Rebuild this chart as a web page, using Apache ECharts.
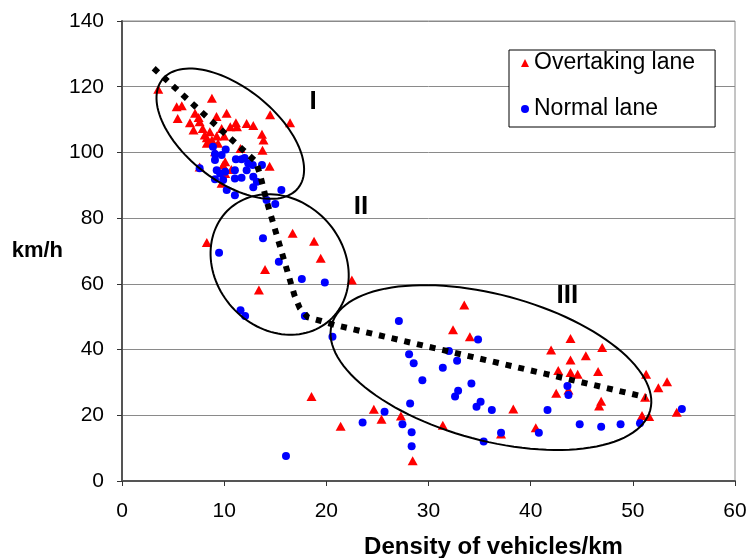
<!DOCTYPE html>
<html>
<head>
<meta charset="utf-8">
<script src="https://cdn.jsdelivr.net/npm/echarts@6/dist/echarts.min.js"></script>
<style>
html,body{margin:0;padding:0;background:#fff;}
#chart{width:749px;height:558px;}
</style>
</head>
<body>
<div id="chart"></div>
<script>
// ---- data ----
const overtakingLane = [
  [3.55,119.2],[5.35,113.9],[5.85,114.2],[5.45,110.3],[8.8,116.5],
  [6.65,109.0],[7.15,111.9],[7.5,110.6],[7.6,109.3],
  [7.0,106.8],[7.9,107.3],[8.1,105.3],[8.6,106.3],[8.3,104.5],[8.8,103.8],[8.3,102.8],
  [9.25,110.9],[9.75,107.3],[9.27,105.0],[9.4,102.8],[10.0,105.0],[9.1,100.2],
  [10.24,111.9],[10.6,107.8],[11.15,109.0],[11.25,107.8],
  [12.2,108.8],[12.85,108.2],[13.7,105.5],[13.85,103.8],[13.75,100.7],
  [14.5,111.5],[16.45,109.0],[11.6,101.2],
  [10.1,97.2],[9.9,96.2],[10.7,94.8],[10.1,93.6],[9.75,90.6],[7.6,95.6],[14.45,95.8],
  [8.3,72.6],[16.7,75.4],[18.8,73.0],[19.45,67.8],[14.0,64.4],[13.4,58.1],[22.5,61.2],
  [33.5,53.6],[32.4,46.0],[34.05,43.9],[18.55,25.7],[24.65,21.8],[25.4,18.8],[21.4,16.7],
  [27.3,19.8],[31.4,17.0],[28.45,6.2],
  [43.9,43.4],[42.0,39.9],[47.0,40.6],[45.4,38.1],[43.9,36.8],[42.7,33.6],[43.9,33.0],
  [44.6,32.5],[46.6,33.3],[51.3,32.5],[53.35,30.2],[52.5,28.4],[42.5,26.7],[43.7,27.7],
  [46.9,24.3],[46.7,22.8],[51.2,25.5],[38.3,21.9],[50.9,19.9],[51.6,19.6],[54.3,20.9],
  [40.5,16.2],[37.1,14.3]
];
const normalLane = [
  [7.6,95.2],[8.9,101.7],[9.1,99.5],[9.75,99.2],[10.15,100.9],[9.1,97.7],
  [11.15,97.9],[11.7,97.9],[12.0,98.3],[12.35,96.7],[12.8,96.2],[13.7,96.2],
  [11.05,94.6],[12.2,94.6],[9.27,94.6],[9.6,93.6],[10.1,94.1],
  [9.1,91.8],[9.9,91.6],[11.05,92.1],[11.7,92.3],[12.85,92.6],
  [12.85,89.4],[13.2,91.1],[10.25,88.6],[11.05,87.0],[14.15,85.5],[15.6,88.6],[15.0,84.3],
  [13.8,73.9],[9.5,69.5],[15.35,66.7],[17.6,61.5],[19.85,60.4],[11.6,52.0],[12.05,50.2],
  [17.9,50.2],[20.6,43.9],
  [27.1,48.7],[34.85,43.1],[28.1,38.6],[28.55,35.8],[31.4,34.5],[32.0,39.6],[32.8,36.6],
  [29.4,30.7],[34.2,29.7],[32.9,27.5],[32.6,25.7],[35.1,24.1],[34.7,22.6],[36.2,21.6],
  [28.2,23.6],[25.7,21.1],[23.55,17.8],[27.45,17.3],[28.35,14.8],[28.35,10.6],[16.05,7.6],
  [35.4,12.0],[37.1,14.7],
  [43.6,28.9],[43.7,26.2],[41.65,21.6],[44.8,17.3],[46.9,16.5],[48.8,17.3],[50.7,17.6],
  [54.8,21.9],[40.8,14.7]
];
const trendX = [3.1, 13.1, 13.5, 14.15, 16.9, 17.4, 18.2, 19.5, 20.8, 51.3];
const trendY = [125.6, 97.2, 93.4, 85.3, 56.3, 52.6, 49.8, 48.7, 47.5, 25.5];
// ellipses in data units: [centerX, centerY, axis1X, axis1Y, axis2X, axis2Y]
const ellipses = [
  [10.6, 105.7, 6.65, -16.5, 2.82, 11.0],
  [15.43, 65.9, 4.91, -16.96, 4.65, 13.03],
  [36.11, 34.53, 15.59, -12.99, 1.85, 21.46]
];
const regionLabels = ['I', 'II', 'III'];
const regionLabelX = [18.7, 23.4, 43.6];
const regionLabelY = [115.4, 83.5, 56.3];
const xTicks = [0, 60, 10];
const yTicks = [0, 140, 20];

// ---- chart ----
const FONT = '"Liberation Sans", Arial, sans-serif';
const chart = echarts.init(document.getElementById('chart'), null, {renderer: 'canvas'});

const trendData = trendX.map((x, i) => [x, trendY[i]]);
const labelData = regionLabels.map((t, i) => [regionLabelX[i], regionLabelY[i], i]);

chart.setOption({
  animation: false,
  backgroundColor: '#fff',
  grid: {
    left: 122, top: 21, width: 613, height: 460,
    outerBoundsMode: 'none', containLabel: false,
    show: true, borderColor: '#8a8a8a', borderWidth: 1, backgroundColor: 'transparent'
  },
  legend: {
    orient: 'vertical',
    left: 509, top: 50,
    padding: [1, 20, 6, 12],
    itemGap: 22,
    itemWidth: 8, itemHeight: 8,
    backgroundColor: '#fff',
    borderColor: '#000', borderWidth: 1,
    textStyle: {fontFamily: FONT, fontSize: 23, color: '#000', lineHeight: 24},
    data: ['Overtaking lane', 'Normal lane']
  },
  xAxis: {
    type: 'value', min: xTicks[0], max: xTicks[1], interval: xTicks[2],
    name: 'Density of vehicles/km', nameLocation: 'middle', nameGap: 54,
    nameTextStyle: {fontFamily: FONT, fontSize: 24, fontWeight: 'bold', color: '#000', padding: [0, 0, 0, 130]},
    axisLine: {show: true, onZero: false, lineStyle: {color: '#555', width: 2}},
    axisTick: {show: true, length: 5, lineStyle: {color: '#333', width: 1}},
    axisLabel: {fontFamily: FONT, fontSize: 21, color: '#000', margin: 20},
    splitLine: {show: false}
  },
  yAxis: {
    type: 'value', min: yTicks[0], max: yTicks[1], interval: yTicks[2],
    name: 'km/h', nameLocation: 'middle', nameGap: 54, nameRotate: 0,
    nameTextStyle: {fontFamily: FONT, fontSize: 22, fontWeight: 'bold', color: '#000', align: 'right', padding: [0, 0, 12, 0]},
    axisLine: {show: true, onZero: false, lineStyle: {color: '#555', width: 2}},
    axisTick: {show: true, length: 5, lineStyle: {color: '#333', width: 1}},
    axisLabel: {fontFamily: FONT, fontSize: 21, color: '#000', margin: 18},
    splitLine: {show: true, lineStyle: {color: '#8a8a8a', width: 1}}
  },
  series: [
    {
      name: 'Overtaking lane', type: 'scatter',
      symbol: 'triangle', symbolSize: [10, 9],
      itemStyle: {color: '#ff0000', opacity: 1},
      data: overtakingLane, z: 3
    },
    {
      name: 'Normal lane', type: 'scatter',
      symbol: 'circle', symbolSize: 8,
      itemStyle: {color: '#0000ff', opacity: 1},
      data: normalLane, z: 4
    },
    {
      name: 'trend', type: 'line',
      data: trendData, symbol: 'none', z: 5,
      lineStyle: {color: '#000', width: 6, type: [6, 7], cap: 'butt', join: 'miter'},
      silent: true
    },
    {
      name: 'regions', type: 'custom', z: 6, silent: true,
      data: ellipses,
      encode: {x: 0, y: 1},
      clip: false,
      renderItem: function (params, api) {
        const cx = api.value(0), cy = api.value(1);
        const ux = api.value(2), uy = api.value(3);
        const vx = api.value(4), vy = api.value(5);
        const pts = [];
        const n = 120;
        for (let k = 0; k < n; k++) {
          const t = 2 * Math.PI * k / n;
          pts.push(api.coord([cx + ux * Math.cos(t) + vx * Math.sin(t), cy + uy * Math.cos(t) + vy * Math.sin(t)]));
        }
        return {type: 'polygon', shape: {points: pts}, style: {fill: null, stroke: '#000', lineWidth: 2}};
      }
    },
    {
      name: 'region labels', type: 'custom', z: 7, silent: true,
      data: labelData,
      encode: {x: 0, y: 1},
      clip: false,
      renderItem: function (params, api) {
        const p = api.coord([api.value(0), api.value(1)]);
        return {
          type: 'text', x: p[0], y: p[1],
          style: {
            text: regionLabels[api.value(2)],
            fill: '#000', font: 'bold 26px ' + FONT,
            align: 'center', verticalAlign: 'middle'
          }
        };
      }
    }
  ]
});
</script>
</body>
</html>
